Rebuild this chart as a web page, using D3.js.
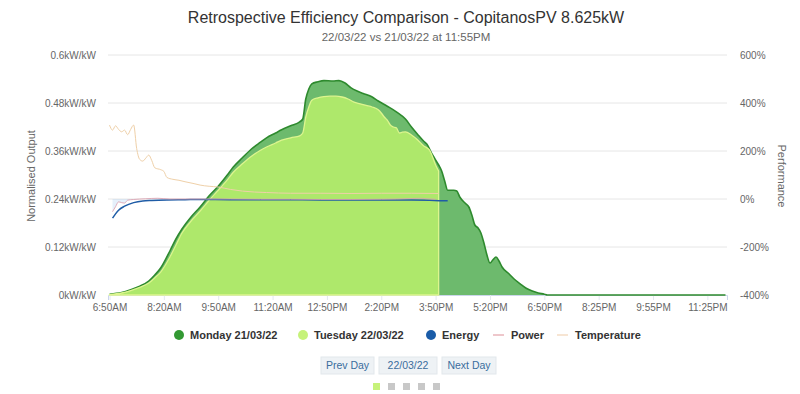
<!DOCTYPE html>
<html>
<head>
<meta charset="utf-8">
<script src="https://cdn.jsdelivr.net/npm/d3@7"></script>
<style>
  body { margin: 0; background: #fff; }
  svg { display: block; font-family: "Liberation Sans", Arial, sans-serif; }
</style>
</head>
<body>
<svg id="chart" width="800" height="394"></svg>
<script>
// 5 minute slots from 6:50AM to 11:55PM (one slot missing after 6:50PM)
const slotCount = 205;
const xLabels = ["6:50AM", "8:20AM", "9:50AM", "11:20AM", "12:50PM", "2:20PM", "3:50PM",
                 "5:20PM", "6:50PM", "8:25PM", "9:55PM", "11:25PM"];
const labelEvery = 18;
const leftTicks = [0, 0.12, 0.24, 0.36, 0.48, 0.6];
const rightTicks = [-400, -200, 0, 200, 400, 600];
const seriesNames = ["Monday 21/03/22", "Tuesday 22/03/22", "Energy", "Power", "Temperature"];
const pagerDays = 5;

// [slot, kW/kW]
const monday = [[0,0.002],[4,0.006],[7,0.013],[10,0.022],[13,0.035],[15,0.05],[17,0.068],[20,0.11],[22,0.14],
  [24,0.165],[27,0.195],[30,0.22],[33,0.248],[36,0.272],[39,0.3],[41,0.32],[44,0.343],[47,0.365],[50,0.382],
  [52,0.393],[55,0.405],[57,0.413],[60,0.423],[63,0.433],[64,0.44],[65,0.49],[66,0.515],[67,0.528],[69,0.533],
  [71,0.536],[74,0.535],[76,0.536],[78,0.53],[80,0.518],[82,0.51],[84,0.504],[87,0.495],[89,0.485],[92,0.472],
  [95,0.458],[98,0.44],[100,0.42],[102,0.402],[104,0.385],[105,0.378],[107,0.35],[109,0.325],[110,0.31],
  [111,0.285],[112,0.262],[114,0.262],[115,0.26],[116,0.245],[118,0.228],[119,0.22],[120,0.2],[121,0.175],
  [122,0.168],[123,0.155],[124,0.13],[125,0.1],[126,0.08],[127,0.088],[128,0.095],[129,0.085],[130,0.07],
  [132,0.055],[134,0.04],[136,0.028],[138,0.017],[140,0.01],[142,0.005],[144,0.002],[145,0],[204,0]];

const tuesday = [[0,0.001],[4,0.005],[7,0.011],[10,0.019],[13,0.03],[15,0.043],[17,0.058],[20,0.095],[22,0.125],
  [24,0.155],[27,0.185],[30,0.21],[33,0.237],[36,0.262],[39,0.288],[41,0.307],[44,0.328],[47,0.347],[50,0.362],
  [52,0.37],[55,0.38],[57,0.387],[60,0.393],[63,0.398],[64,0.405],[65,0.445],[66,0.47],[67,0.487],[69,0.493],
  [71,0.496],[73,0.497],[75,0.497],[77,0.495],[79,0.49],[81,0.482],[83,0.478],[85,0.474],[87,0.47],[89,0.463],
  [90,0.455],[91,0.445],[92,0.437],[93,0.425],[94,0.42],[95,0.418],[96,0.405],[97,0.407],[98,0.408],[100,0.4],
  [102,0.388],[104,0.373],[106,0.362],[107,0.345],[108,0.325],[109,0.31]];

// [slot, %]
const energy = [[1,-80],[2,-62],[3,-47],[5,-30],[8,-15],[11,-8],[14,-6],[19,-4],[25,-3],[30,-2],[40,-3],
  [50,-3],[60,-3],[70,-4],[80,-4],[90,-4],[100,-4],[106,-5],[110,-7],[112,-7]];

const power = [[1,-53],[2,-32],[3,-12],[4,-15],[5,-17],[6,-5],[8,-2],[12,1],[16,3],[20,0],[30,0],[40,0],
  [50,-1],[60,-1],[70,-2],[80,-2],[90,-1],[95,0],[100,2],[103,3],[105,1],[108,-1]];

const temperature = [[0,308],[1,287],[2,305],[3,290],[4,280],[5,287],[6,268],[7,290],[8,308],[9,210],[10,165],
  [11,158],[12,170],[13,183],[14,160],[15,130],[17,122],[18,115],[19,90],[21,82],[23,78],[25,72],[28,64],
  [30,58],[33,53],[36,50],[40,40],[44,33],[48,29],[52,27],[56,25],[60,24],[70,24],[80,23],[90,24],[100,24],[109,23]];

const svg = d3.select("#chart");
const plotLeft = 108, plotRight = 727, plotTop = 55, plotBottom = 295;

const x = d3.scaleLinear().domain([-0.5, slotCount - 0.5]).range([plotLeft, plotRight]);
const yLeft = d3.scaleLinear().domain([0, 0.6]).range([plotBottom, plotTop]);
const yRight = d3.scaleLinear().domain([-400, 600]).range([plotBottom, plotTop]);

// title
svg.append("text").attr("x", 406).attr("y", 23).attr("text-anchor", "middle")
  .attr("font-size", 16).attr("fill", "#333")
  .text("Retrospective Efficiency Comparison - CopitanosPV 8.625kW");
svg.append("text").attr("x", 406).attr("y", 41).attr("text-anchor", "middle")
  .attr("font-size", 11.5).attr("fill", "#666")
  .text("22/03/22 vs 21/03/22 at 11:55PM");

// grid
svg.append("g").selectAll("line").data(leftTicks.slice(1)).join("line")
  .attr("x1", plotLeft).attr("x2", plotRight)
  .attr("y1", d => yLeft(d)).attr("y2", d => yLeft(d))
  .attr("stroke", "#e6e6e6");

// axes
const gl = svg.append("g").attr("transform", `translate(${plotLeft},0)`)
  .call(d3.axisLeft(yLeft).tickValues(leftTicks).tickSize(0).tickPadding(12)
    .tickFormat(d => d3.format("~g")(d) + "kW/kW"));
gl.select(".domain").remove();

const gr = svg.append("g").attr("transform", `translate(${plotRight},0)`)
  .call(d3.axisRight(yRight).tickValues(rightTicks).tickSize(0).tickPadding(13)
    .tickFormat(d => d + "%"));
gr.select(".domain").remove();

const gx = svg.append("g").attr("transform", `translate(0,${plotBottom})`)
  .call(d3.axisBottom(x).tickValues(xLabels.map((_, i) => i * labelEvery)).tickSize(5).tickPadding(4)
    .tickFormat((d, i) => xLabels[i]));
gx.select(".domain").attr("stroke", "#ccd6eb");
gx.selectAll(".tick line").attr("stroke", "#e3e8f0");

svg.selectAll(".tick text").attr("fill", "#666").attr("font-size", 10)
  .attr("font-family", "Liberation Sans, Arial, sans-serif");

svg.append("text").attr("transform", "translate(35,176) rotate(-90)")
  .attr("text-anchor", "middle").attr("font-size", 11).attr("fill", "#666").text("Normalised Output");
svg.append("text").attr("transform", "translate(778,176) rotate(90)")
  .attr("text-anchor", "middle").attr("font-size", 11).attr("fill", "#666").text("Performance");

// day areas
const dayArea = d3.area().x(d => x(d[0])).y0(yLeft(0)).y1(d => yLeft(d[1])).curve(d3.curveMonotoneX);
const dayLine = d3.line().x(d => x(d[0])).y(d => yLeft(d[1])).curve(d3.curveMonotoneX);

svg.append("path").datum(monday).attr("d", dayArea).attr("fill", "#6dba6d");
svg.append("path").datum(monday).attr("d", dayLine).attr("fill", "none")
  .attr("stroke", "#2e8a2e").attr("stroke-width", 1.6);

svg.append("path").datum(tuesday).attr("d", dayArea).attr("fill", "#aee86b")
  .attr("stroke", "#ddf58e").attr("stroke-width", 1.3);

// performance lines
const perfArea = d3.area().x(d => x(d[0])).y0(yRight(0)).y1(d => yRight(d[1])).curve(d3.curveMonotoneX);
const perfLine = d3.line().x(d => x(d[0])).y(d => yRight(d[1])).curve(d3.curveMonotoneX);

svg.append("path").datum(power).attr("d", perfArea).attr("fill", "rgba(124,181,236,0.2)");
svg.append("path").datum(energy).attr("d", perfLine).attr("fill", "none")
  .attr("stroke", "#1f5ca6").attr("stroke-width", 1.5);
svg.append("path").datum(power).attr("d", perfLine).attr("fill", "none")
  .attr("stroke", "#dca0ae").attr("stroke-width", 1).attr("opacity", 0.85);
svg.append("path").datum(temperature).attr("d", perfLine).attr("fill", "none")
  .attr("stroke", "#efd0a8").attr("stroke-width", 1);

// legend
const legendX = [179, 303, 431, 493, 557];
const legendColor = ["#339933", "#c6f27a", "#1a5ca8", "#e9b5ba", "#f4dcc4"];
const lg = svg.append("g").attr("font-size", 11).attr("font-weight", "bold").attr("fill", "#333");
seriesNames.forEach((name, i) => {
  const g = lg.append("g").attr("transform", `translate(${legendX[i]},335)`);
  if (i < 3) {
    g.append("circle").attr("r", 5).attr("fill", legendColor[i]);
    g.append("text").attr("x", 11).attr("y", 4).text(name);
  } else {
    g.append("line").attr("x1", 0).attr("x2", 11).attr("stroke", legendColor[i]).attr("stroke-width", 1.5);
    g.append("text").attr("x", 18).attr("y", 4).text(name);
  }
});

// day buttons
const buttons = [["Prev Day", 321, 53], ["22/03/22", 379, 58], ["Next Day", 442, 54]];
buttons.forEach(([label, bx, bw]) => {
  svg.append("rect").attr("x", bx).attr("y", 357).attr("width", bw).attr("height", 17)
    .attr("fill", "#eef2f5").attr("stroke", "#e2e7eb");
  svg.append("text").attr("x", bx + bw / 2).attr("y", 369).attr("text-anchor", "middle")
    .attr("font-size", 10.5).attr("fill", "#3a6d9d").text(label);
});

// pager squares
svg.append("g").selectAll("rect").data(d3.range(pagerDays)).join("rect")
  .attr("x", d => 373 + d * 15).attr("y", 383).attr("width", 7).attr("height", 7)
  .attr("fill", d => d === 0 ? "#c6f27a" : "#c8c8c8");
</script>
</body>
</html>
